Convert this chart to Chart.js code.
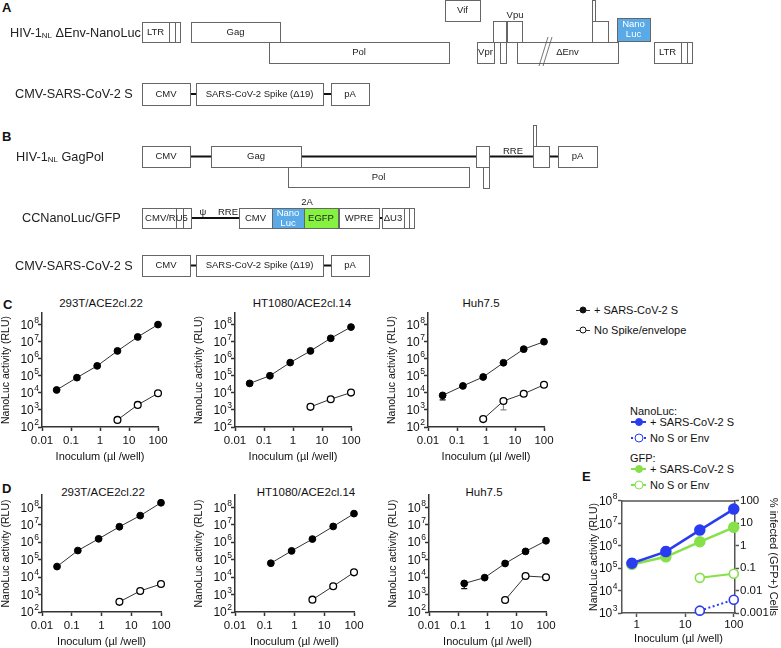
<!DOCTYPE html>
<html>
<head>
<meta charset="utf-8">
<title>SARS-CoV-2 S pseudotyped HIV-1 reporter assays</title>
<script src="https://cdn.jsdelivr.net/npm/chart.js"></script>
<style>
  body { margin: 0; width: 781px; height: 648px; position: relative; overflow: hidden; background: #fff;
         font-family: "Liberation Sans", Arial, Helvetica, sans-serif; color: #111; }
  canvas { position: absolute; }
  .ttl { position: absolute; font-size: 11.5px; white-space: nowrap; transform: translate(-50%, -50%); }
  .panel { position: absolute; font-size: 13px; font-weight: bold; transform: translateY(-50%); }
  .leg { position: absolute; font-size: 11px; white-space: nowrap; transform: translateY(-50%);
         display: flex; align-items: center; }
  .mk { position: relative; width: 14px; height: 10px; margin-right: 4px; }
  .mk b { position: absolute; left: 0; right: 0; top: 50%; height: 0; border-top: 1px solid #333; }
  .mk i { position: absolute; left: 50%; top: 50%; width: 7px; height: 7px; border-radius: 50%;
          transform: translate(-50%, -50%); box-sizing: border-box; border: 1.2px solid #111; }
</style>
</head>
<body>

<div class="panel" style="left:2px;top:7px">A</div>
<div class="panel" style="left:2px;top:136px">B</div>
<div class="panel" style="left:3px;top:304px">C</div>
<div class="panel" style="left:2px;top:488px">D</div>
<div class="panel" style="left:582px;top:476px">E</div>

<canvas id="scheme" width="781" height="285" style="left:0;top:0"></canvas>

<div class="ttl" style="left:101px;top:303px">293T/ACE2cl.22</div>
<div class="ttl" style="left:302px;top:303px">HT1080/ACE2cl.14</div>
<div class="ttl" style="left:481px;top:303px">Huh7.5</div>
<div class="ttl" style="left:103px;top:492px">293T/ACE2cl.22</div>
<div class="ttl" style="left:306px;top:492px">HT1080/ACE2cl.14</div>
<div class="ttl" style="left:484px;top:492px">Huh7.5</div>

<canvas id="c293" width="173" height="159" style="left:0;top:305px"></canvas>
<canvas id="cHT" width="173" height="159" style="left:193px;top:305px"></canvas>
<canvas id="cHuh" width="173" height="159" style="left:386px;top:305px"></canvas>
<canvas id="d293" width="176" height="162" style="left:0;top:487px"></canvas>
<canvas id="dHT" width="176" height="162" style="left:193px;top:487px"></canvas>
<canvas id="dHuh" width="174" height="162" style="left:387px;top:487px"></canvas>
<canvas id="eChart" width="192" height="154" style="left:588px;top:492px"></canvas>

<div class="leg" style="left:576px;top:310px"><span class="mk"><b></b><i style="background:#111"></i></span>+ SARS-CoV-2 S</div>
<div class="leg" style="left:576px;top:330px"><span class="mk"><b></b><i style="background:#fff"></i></span>No Spike/envelope</div>

<div class="leg" style="left:630px;top:411px">NanoLuc:</div>
<div class="leg" style="left:631px;top:422px"><span class="mk" style="width:15px"><b style="border-top:2.5px solid #2a3cf0;margin-top:-1px"></b><i style="background:#2a3cf0;border-color:#2a3cf0;width:8px;height:8px"></i></span>+ SARS-CoV-2 S</div>
<div class="leg" style="left:631px;top:438px"><span class="mk" style="width:15px"><b style="border-top:2px dotted #2a3cf0;margin-top:-1px"></b><i style="background:#fff;border:1.6px solid #2a3cf0;width:9px;height:9px"></i></span>No S or Env</div>
<div class="leg" style="left:630px;top:458px">GFP:</div>
<div class="leg" style="left:631px;top:469px"><span class="mk" style="width:15px"><b style="border-top:2.5px solid #86e04a;margin-top:-1px"></b><i style="background:#86e04a;border-color:#86e04a;width:8px;height:8px"></i></span>+ SARS-CoV-2 S</div>
<div class="leg" style="left:631px;top:485px"><span class="mk" style="width:15px"><b style="border-top:2px solid #86e04a;margin-top:-1px"></b><i style="background:#fff;border:1.6px solid #86e04a;width:9px;height:9px"></i></span>No S or Env</div>

<script>
// ---- data: inoculum (ul/well) and NanoLuc RLU ----
const inoc6 = [0.032, 0.16, 0.8, 4, 20, 100];
const inoc5 = [0.16, 0.8, 4, 20, 100];
const inoc4 = [0.8, 4, 20, 100];
const inoc3 = [4, 20, 100];
const inoc2 = [20, 100];

// panel C
const c293Spike = [14500, 76000, 370000, 2750000, 18000000, 95000000];
const c293None = [260, 1950, 9300];
const cHTSpike = [35000, 98000, 575000, 2750000, 15000000, 68000000];
const cHTNone = [1500, 4200, 10200];
const cHuhSpike = [7000, 25000, 83000, 560000, 3500000, 9500000];
const cHuhSpikeLow = [3800, null, null, null, null, null];
const cHuhNone = [290, 3300, 8700, 29000];      // x = inoc4
const cHuhNoneLow = [null, 1000, null, null];
const cHuhNoneHigh = [null, 4600, null, null];

// panel D
const d293Spike = [40000, 330000, 1550000, 7600000, 33000000, 180000000];
const d293None = [380, 1600, 4000];
const dHTSpike = [62000, 316000, 1500000, 7900000, 43000000];   // x = inoc5
const dHTNone = [510, 3000, 18600];
const dHuhSpike = [4300, 9300, 60000, 295000, 1200000];         // x = inoc5
const dHuhSpikeLow = [2200, null, null, null, null];
const dHuhNone = [490, 11500, 9800];

// panel E (NanoLuc on left axis, % GFP+ cells on right axis)
const eNlucSpike = [166000, 550000, 5000000, 43000000];
const eNlucSpikeHigh = [257000, 850000, null, null];
const eNlucNone = [1270, 3900];     // x = inoc2
const eGfpSpike = [0.145, 0.32, 1.5, 6.6];
const eGfpNone = [0.037, 0.056];    // x = inoc2

// ticks (RLU axes are labelled 10^n, exponents drawn as superscripts)
const rluTicks = [1e2, 1e3, 1e4, 1e5, 1e6, 1e7, 1e8];
const rluExps = ['2', '3', '4', '5', '6', '7', '8'];
const inocTicks = [0.01, 0.1, 1, 10, 100];
const inocLabels = ['0.01', '0.1', '1', '10', '100'];
const eRluTicks = [1e3, 1e4, 1e5, 1e6, 1e7, 1e8];
const eRluExps = ['3', '4', '5', '6', '7', '8'];
const eInocTicks = [1, 10, 100];
const eInocLabels = ['1', '10', '100'];
const pctTicks = [0.001, 0.01, 0.1, 1, 10, 100];
const pctLabels = ['0.001', '0.01', '0.1', '1', '10', '100'];

// ---- construct maps (schematic units) ----
const boxes = [
  // HIV-1NL dEnv-NanoLuc
  { x0: 142, x1: 180, y0: 22, y1: 42, text: 'LTR', split: [169, 175] },
  { x0: 191, x1: 280, y0: 22, y1: 42, text: 'Gag' },
  { x0: 269, x1: 449, y0: 42, y1: 63, text: 'Pol' },
  { x0: 445, x1: 480, y0: 0, y1: 21, text: 'Vif' },
  { x0: 477, x1: 494, y0: 42, y1: 63, text: 'Vpr' },
  { x0: 493, x1: 506, y0: 21, y1: 42 },
  { x0: 500, x1: 506, y0: 42, y1: 63 },
  { x0: 507, x1: 522, y0: 21, y1: 42 },
  { x0: 517, x1: 618, y0: 42, y1: 63, text: 'ΔEnv' },
  { x0: 592, x1: 608, y0: 21, y1: 42 },
  { x0: 592, x1: 595, y0: 0, y1: 21 },
  { x0: 617, x1: 650, y0: 18, y1: 41, text: 'Nano|Luc', kind: 'nluc' },
  { x0: 654, x1: 692, y0: 42, y1: 63, text: 'LTR', split: [681, 687] },
  // CMV-SARS-CoV-2 S (A)
  { x0: 142, x1: 190, y0: 83, y1: 105, text: 'CMV' },
  { x0: 196, x1: 323, y0: 83, y1: 105, text: 'SARS-CoV-2 Spike (Δ19)' },
  { x0: 331, x1: 369, y0: 83, y1: 105, text: 'pA' },
  // HIV-1NL GagPol
  { x0: 142, x1: 190, y0: 146, y1: 167, text: 'CMV' },
  { x0: 211, x1: 301, y0: 146, y1: 167, text: 'Gag' },
  { x0: 288, x1: 469, y0: 167, y1: 187, text: 'Pol' },
  { x0: 476, x1: 489, y0: 146, y1: 167 },
  { x0: 483, x1: 489, y0: 167, y1: 188 },
  { x0: 533, x1: 549, y0: 146, y1: 167 },
  { x0: 533, x1: 536, y0: 125, y1: 146 },
  { x0: 558, x1: 597, y0: 146, y1: 167, text: 'pA' },
  // CCNanoLuc/GFP
  { x0: 142, x1: 191, y0: 208, y1: 228, text: 'CMV/RU5', split: [176, 183], full: true },
  { x0: 239, x1: 272, y0: 208, y1: 228, text: 'CMV' },
  { x0: 272, x1: 304, y0: 208, y1: 228, text: 'Nano|Luc', kind: 'nluc' },
  { x0: 304, x1: 338, y0: 208, y1: 228, text: 'EGFP', kind: 'egfp' },
  { x0: 339, x1: 379, y0: 208, y1: 228, text: 'WPRE' },
  { x0: 382, x1: 414, y0: 208, y1: 228, text: 'ΔU3', split: [404, 409] },
  // CMV-SARS-CoV-2 S (B)
  { x0: 142, x1: 190, y0: 255, y1: 276, text: 'CMV' },
  { x0: 196, x1: 323, y0: 255, y1: 276, text: 'SARS-CoV-2 Spike (Δ19)' },
  { x0: 331, x1: 369, y0: 255, y1: 276, text: 'pA' }
];
const backbones = [
  { x0: 190, x1: 331, y: 94 },
  { x0: 190, x1: 558, y: 156.5 },
  { x0: 191, x1: 382, y: 218 },
  { x0: 190, x1: 331, y: 265.5 }
];
const freeLabels = [
  { x: 515, y: 15.5, text: 'Vpu' },
  { x: 513, y: 151, text: 'RRE' },
  { x: 203, y: 212, text: 'ψ' },
  { x: 228, y: 212, text: 'RRE' },
  { x: 307, y: 202, text: '2A' }
];
const rowLabels = [
  { x: 10, y: 33, parts: ['HIV-1', 'NL', ' ΔEnv-NanoLuc'] },
  { x: 15, y: 94, parts: ['CMV-SARS-CoV-2 S'] },
  { x: 16, y: 157, parts: ['HIV-1', 'NL', ' GagPol'] },
  { x: 22, y: 218, parts: ['CCNanoLuc/GFP'] },
  { x: 15, y: 266, parts: ['CMV-SARS-CoV-2 S'] }
];
const envBreak = [{ x0: 539, x1: 548, y0: 66, y1: 37 }, { x0: 543, x1: 552, y0: 66, y1: 37 }];

// ---- drawing ----
const FONT = '"Liberation Sans", Arial, Helvetica, sans-serif';
const AXIS = '#333';
const BLUE = '#2a3cf0';
const GREEN = '#86e04a';
Chart.defaults.font.family = FONT;
Chart.defaults.color = '#111';
Chart.defaults.animation = false;

const fills = { nluc: '#5aaae8', egfp: '#84f23e' };

const schemePlugin = {
  id: 'scheme',
  afterDraw(chart) {
    const { ctx, scales: { x, y } } = chart;
    const X = v => x.getPixelForValue(v);
    const Y = v => y.getPixelForValue(v);
    ctx.save();
    ctx.strokeStyle = '#111';
    ctx.lineWidth = 2;
    backbones.forEach(b => {
      ctx.beginPath(); ctx.moveTo(X(b.x0), Y(b.y)); ctx.lineTo(X(b.x1), Y(b.y)); ctx.stroke();
    });
    ctx.lineWidth = 1;
    ctx.textAlign = 'center';
    ctx.textBaseline = 'middle';
    boxes.forEach(b => {
      const l = X(b.x0), r = X(b.x1), t = Y(b.y0), btm = Y(b.y1);
      ctx.fillStyle = fills[b.kind] || '#fff';
      ctx.fillRect(l, t, r - l, btm - t);
      ctx.strokeStyle = '#666';
      ctx.strokeRect(Math.round(l) + 0.5, Math.round(t) + 0.5, Math.round(r - l), Math.round(btm - t));
      (b.split || []).forEach(s => {
        ctx.beginPath(); ctx.moveTo(Math.round(X(s)) + 0.5, t); ctx.lineTo(Math.round(X(s)) + 0.5, btm); ctx.stroke();
      });
      if (b.text) {
        const cx = b.split && !b.full ? (l + X(b.split[0])) / 2 : (l + r) / 2;
        const lines = b.text.split('|');
        ctx.fillStyle = b.kind === 'nluc' ? '#fff' : '#222';
        ctx.font = '9.5px ' + FONT;
        lines.forEach((s, i) => ctx.fillText(s, cx, (t + btm) / 2 + (i - (lines.length - 1) / 2) * 10));
      }
    });
    ctx.strokeStyle = '#555';
    ctx.lineWidth = 0.8;
    envBreak.forEach(s => {
      ctx.beginPath(); ctx.moveTo(X(s.x0), Y(s.y0)); ctx.lineTo(X(s.x1), Y(s.y1)); ctx.stroke();
    });
    ctx.fillStyle = '#222';
    ctx.font = '9.5px ' + FONT;
    freeLabels.forEach(f => ctx.fillText(f.text, X(f.x), Y(f.y)));
    ctx.textAlign = 'left';
    rowLabels.forEach(rl => {
      let px = X(rl.x);
      rl.parts.forEach((p, i) => {
        const sub = rl.parts.length > 1 && i === 1;
        ctx.font = (sub ? '8px ' : '12.7px ') + FONT;
        ctx.fillText(p, px, Y(rl.y) + (sub ? 3 : 0));
        px += ctx.measureText(p).width;
      });
    });
    ctx.restore();
  }
};

new Chart(document.getElementById('scheme'), {
  type: 'scatter',
  data: { datasets: [] },
  options: {
    responsive: false, events: [],
    layout: { padding: 0 },
    plugins: { legend: { display: false }, tooltip: { enabled: false } },
    scales: {
      x: { type: 'linear', min: 0, max: 781, display: false },
      y: { type: 'linear', min: 0, max: 285, reverse: true, display: false }
    }
  },
  plugins: [schemePlugin]
});

const errorBars = {
  id: 'errorBars',
  beforeDatasetsDraw(chart) {
    const { ctx } = chart;
    chart.data.datasets.forEach((ds, di) => {
      if (!ds.errLow && !ds.errHigh) return;
      const meta = chart.getDatasetMeta(di);
      const ys = chart.scales[meta.yAxisID];
      ctx.save();
      ctx.strokeStyle = ds.errColor || ds.borderColor;
      ctx.lineWidth = ds.errWidth || 1.2;
      meta.data.forEach((pt, i) => {
        [ds.errLow && ds.errLow[i], ds.errHigh && ds.errHigh[i]].forEach(v => {
          if (v == null) return;
          const ey = ys.getPixelForValue(v);
          ctx.beginPath();
          ctx.moveTo(pt.x, pt.y); ctx.lineTo(pt.x, ey);
          ctx.moveTo(pt.x - 3, ey); ctx.lineTo(pt.x + 3, ey);
          ctx.stroke();
        });
      });
      ctx.restore();
    });
  }
};

const topFrame = {
  id: 'topFrame',
  beforeDatasetsDraw(chart) {
    const { ctx, chartArea: a } = chart;
    ctx.save();
    ctx.strokeStyle = '#555';
    ctx.lineWidth = 1.5;
    ctx.beginPath(); ctx.moveTo(a.left, a.top); ctx.lineTo(a.right, a.top); ctx.stroke();
    ctx.restore();
  }
};

// draws "10" with a raised exponent next to each tick of a left-hand log axis
function powerLabels(axisId, exps, gap) {
  return {
    id: 'powerLabels',
    afterDraw(chart) {
      const s = chart.scales[axisId];
      const { ctx } = chart;
      const right = s.right - gap;
      ctx.save();
      ctx.fillStyle = '#111';
      ctx.textAlign = 'right';
      ctx.textBaseline = 'middle';
      s.ticks.forEach((t, i) => {
        const y = s.getPixelForValue(t.value);
        ctx.font = '8.5px ' + FONT;
        const w = ctx.measureText(exps[i]).width;
        ctx.fillText(exps[i], right, y - 4);
        ctx.font = '12px ' + FONT;
        ctx.fillText('10', right - w - 0.5, y + 1);
      });
      ctx.restore();
    }
  };
}

function pts(xs, ys) { return xs.map((x, i) => ({ x, y: ys[i] })); }

function logAxis(o) {
  return {
    type: 'logarithmic', position: o.position, min: o.min, max: o.max,
    afterBuildTicks: s => { s.ticks = o.ticks.map(v => ({ value: v })); },
    afterFit: s => { if (o.width) s.width = o.width; if (o.height) s.height = o.height; },
    ticks: { autoSkip: false, maxRotation: 0, padding: o.pad, color: '#111', font: { size: 11.5 },
             callback: (v, i) => (o.labels ? o.labels[i] : '') },
    grid: { drawOnChartArea: false, tickLength: 4, tickWidth: 1.5, tickColor: o.axisColor || AXIS },
    border: { color: o.axisColor || AXIS, width: 1.5 },
    title: { display: true, text: o.title, padding: 0, color: '#111', font: { size: o.titleSize || 11 } }
  };
}

function doseChart(id, xSpike, ySpike, xNone, yNone, yMax, err) {
  err = err || {};
  new Chart(document.getElementById(id), {
    type: 'scatter',
    data: {
      datasets: [
        { data: pts(xSpike, ySpike), showLine: true, clip: false, borderColor: '#333', borderWidth: 1,
          pointRadius: 3.4, pointBackgroundColor: '#000', pointBorderColor: '#000', pointBorderWidth: 1,
          errLow: err.spikeLow, errColor: '#111' },
        { data: pts(xNone, yNone), showLine: true, clip: false, borderColor: '#333', borderWidth: 1,
          pointRadius: 3.4, pointBackgroundColor: '#fff', pointBorderColor: '#000', pointBorderWidth: 1.3,
          errLow: err.noneLow, errHigh: err.noneHigh, errColor: '#888' }
      ]
    },
    options: {
      responsive: false, events: [],
      layout: { padding: { top: 8, right: 15, left: 0, bottom: 0 } },
      plugins: { legend: { display: false }, tooltip: { enabled: false } },
      scales: {
        x: logAxis({ position: 'bottom', min: 0.01, max: 100, ticks: inocTicks, labels: inocLabels,
                     height: 37, pad: 3, title: 'Inoculum (µl /well)' }),
        y: logAxis({ position: 'left', min: 100, max: yMax, ticks: rluTicks,
                     width: 42, pad: 1, title: 'NanoLuc activity (RLU)', titleSize: 10.5 })
      }
    },
    plugins: [errorBars, powerLabels('y', rluExps, 3)]
  });
}

doseChart('c293', inoc6, c293Spike, inoc3, c293None, 4.5e8);
doseChart('cHT', inoc6, cHTSpike, inoc3, cHTNone, 4.5e8);
doseChart('cHuh', inoc6, cHuhSpike, inoc4, cHuhNone, 4.5e8,
          { spikeLow: cHuhSpikeLow, noneLow: cHuhNoneLow, noneHigh: cHuhNoneHigh });
doseChart('d293', inoc6, d293Spike, inoc3, d293None, 5e8);
doseChart('dHT', inoc5, dHTSpike, inoc3, dHTNone, 5e8);
doseChart('dHuh', inoc5, dHuhSpike, inoc3, dHuhNone, 5e8, { spikeLow: dHuhSpikeLow });

new Chart(document.getElementById('eChart'), {
  type: 'scatter',
  data: {
    datasets: [
      { data: pts(inoc4, eNlucSpike), yAxisID: 'y', showLine: true, clip: false, borderColor: BLUE, borderWidth: 2.5,
        pointRadius: 4.5, pointBackgroundColor: BLUE, pointBorderColor: BLUE,
        errHigh: eNlucSpikeHigh, errColor: BLUE, errWidth: 1.5 },
      { data: pts(inoc2, eNlucNone), yAxisID: 'y', showLine: true, clip: false, borderColor: BLUE, borderWidth: 2,
        borderDash: [2, 2.5], pointRadius: 4.5, pointBackgroundColor: '#fff', pointBorderColor: BLUE,
        pointBorderWidth: 1.6 },
      { data: pts(inoc4, eGfpSpike), yAxisID: 'y2', showLine: true, clip: false, borderColor: GREEN, borderWidth: 2.5,
        pointRadius: 4.5, pointBackgroundColor: GREEN, pointBorderColor: GREEN },
      { data: pts(inoc2, eGfpNone), yAxisID: 'y2', showLine: true, clip: false, borderColor: GREEN, borderWidth: 2,
        pointRadius: 4.5, pointBackgroundColor: '#fff', pointBorderColor: GREEN, pointBorderWidth: 1.6 }
    ]
  },
  options: {
    responsive: false, events: [],
    layout: { padding: { top: 8, right: 0, left: 0, bottom: 0 } },
    plugins: { legend: { display: false }, tooltip: { enabled: false } },
    scales: {
      x: logAxis({ position: 'bottom', min: 0.5, max: 106, ticks: eInocTicks, labels: eInocLabels,
                   height: 33, pad: 1, title: 'Inoculum (µl /well)', axisColor: '#555' }),
      y: logAxis({ position: 'left', min: 1e3, max: 1e8, ticks: eRluTicks,
                   width: 34, pad: 2, title: 'NanoLuc activity (RLU)', titleSize: 10.5, axisColor: '#555' }),
      y2: logAxis({ position: 'right', min: 0.001, max: 100, ticks: pctTicks, labels: pctLabels,
                    width: 45, pad: 1, title: '% infected (GFP+) Cells', axisColor: '#555' })
    }
  },
  plugins: [errorBars, topFrame, powerLabels('y', eRluExps, 4.5)]
});
</script>
</body>
</html>
